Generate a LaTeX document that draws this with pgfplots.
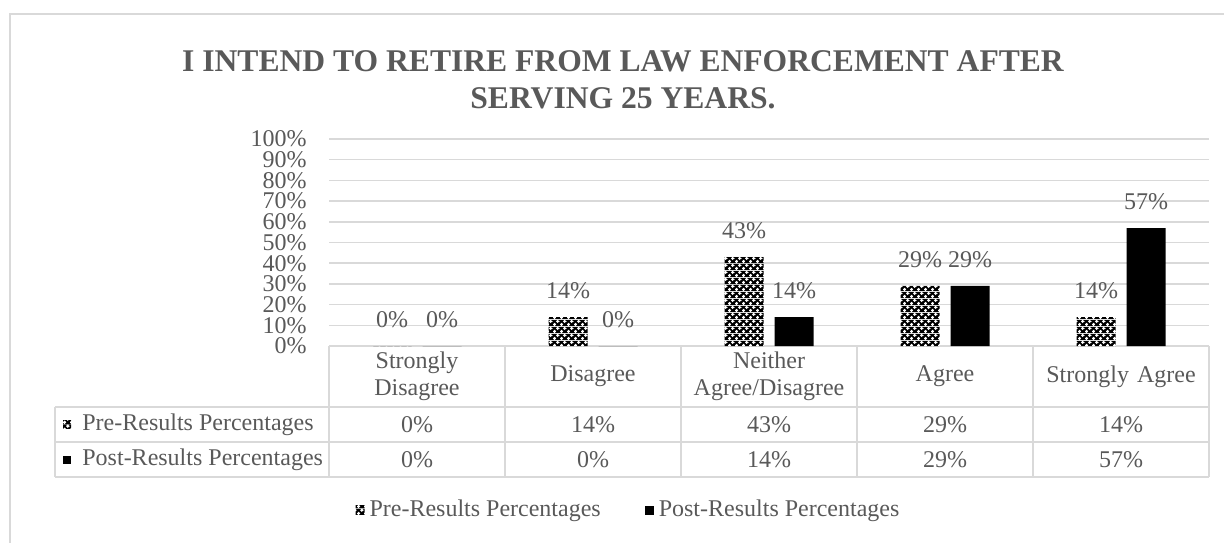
\documentclass[border=0pt]{standalone}
\usepackage{fontspec}
\setmainfont{Liberation Serif}
\usepackage{pgfplots}
\pgfplotsset{compat=1.18}
\usetikzlibrary{patterns}
\definecolor{txt}{HTML}{595959}
\definecolor{gridc}{HTML}{D9D9D9}
\pgfdeclarepatterninherentlycolored{dotgrid}{\pgfpointorigin}{\pgfpoint{3.5pt}{3.5pt}}{\pgfpoint{3.5pt}{3.5pt}}{%
  \pgfsetfillcolor{black}%
  \pgfpathrectangle{\pgfpointorigin}{\pgfpoint{3.5pt}{3.5pt}}\pgfusepath{fill}%
  \pgfsetfillcolor{white}%
  \pgfpathcircle{\pgfpoint{0.875pt}{0.875pt}}{0.95pt}\pgfusepath{fill}%
  \pgfpathcircle{\pgfpoint{2.625pt}{2.625pt}}{0.95pt}\pgfusepath{fill}%
}
\pgfplotstableread{
x pre post
0 0 0
1 14 0
2 43 14
3 29 29
4 14 57
}\datatab
\begin{document}
\begin{tikzpicture}[x=1pt,y=1pt]
\draw[gridc, line width=0.75pt] (5,-20) rectangle (618,264);
\node[txt, font=\fontsize{15.8}{18.5}\selectfont\bfseries, align=center] at (311.5,231.25) {I INTEND TO RETIRE FROM LAW ENFORCEMENT AFTER\\SERVING 25 YEARS.};
\begin{axis}[
  at={(164.5pt,98pt)}, anchor=south west,
  scale only axis, width=440pt, height=103.5pt,
  ybar=5.5pt, bar width=19.5pt,
  xmin=-0.5, xmax=4.5, ymin=0, ymax=100,
  xtick={0,1,2,3,4},
  xticklabels={{Strongly\\Disagree},{Disagree},{Neither\\Agree/Disagree},{Agree},{Strongly Agree}},
  xticklabel style={anchor=center, yshift=-15.25pt, text width=86pt, align=center, font=\fontsize{12}{13.5}\selectfont, text=txt, inner sep=0pt},
  ytick={0,10,...,100},
  yticklabels={0\%,10\%,20\%,30\%,40\%,50\%,60\%,70\%,80\%,90\%,100\%},
  yticklabel style={anchor=east, inner sep=0pt, xshift=-11pt, font=\fontsize{12}{13.5}\selectfont, text=txt},
  major tick length=0pt,
  axis line style={draw=none},
  ymajorgrids, major grid style={gridc, line width=0.75pt},
  clip=false,
  nodes near coords={\pgfmathprintnumber{\pgfplotspointmeta}\%},
  /pgf/number format/assume math mode=true,
  every node near coord/.append style={inner sep=0pt, yshift=9pt, font=\fontsize{12}{13.5}\selectfont, text=txt},
  legend style={at={(axis description cs:0.3392,-0.7923)}, anchor=center, draw=none, fill=none,
    legend columns=2, font=\fontsize{12}{13.5}\selectfont, text=txt,
    nodes={inner sep=0pt}, column sep=2.5pt,
    /tikz/every even column/.append style={column sep=22pt}},
  legend image code/.code={\path[#1, draw=none] (0pt,-2.25pt) rectangle (4.5pt,2.25pt);},
]
\addplot[pattern=dotgrid, draw=none] table[x=x, y=pre] {\datatab};
\addplot[fill=black, draw=none] table[x=x, y=post] {\datatab};
\legend{Pre-Results Percentages, Post-Results Percentages}
\end{axis}
% data table
\begin{scope}[gridc, line width=0.75pt]
\draw (27.5,67.5) -- (604.5,67.5);
\draw (27.5,50) -- (604.5,50);
\draw (27.5,32.5) -- (604.5,32.5);
\draw (27.5,67.5) -- (27.5,32.5);
\foreach \k in {0,...,5} { \draw ({164.5+88*\k},98) -- ({164.5+88*\k},32.5); }
\end{scope}
\fill[pattern=dotgrid] (31.5,56.75) rectangle (35.5,60.75);
\fill[black] (31.5,39.25) rectangle (35.5,43.25);
\begin{scope}[every node/.style={text=txt, font=\fontsize{12}{13.5}\selectfont, inner sep=0pt}]
\node[anchor=west] at (41,58.75) {Pre-Results Percentages};
\node[anchor=west] at (41,41.25) {Post-Results Percentages};
\foreach \v [count=\i from 0] in {0,14,43,29,14} { \node at ({208.5+88*\i},58.75) {\v\%}; }
\foreach \v [count=\i from 0] in {0,0,14,29,57} { \node at ({208.5+88*\i},41.25) {\v\%}; }
\end{scope}
\pgfresetboundingbox
\useasboundingbox (0,0) rectangle (612,271);
\end{tikzpicture}
\end{document}
